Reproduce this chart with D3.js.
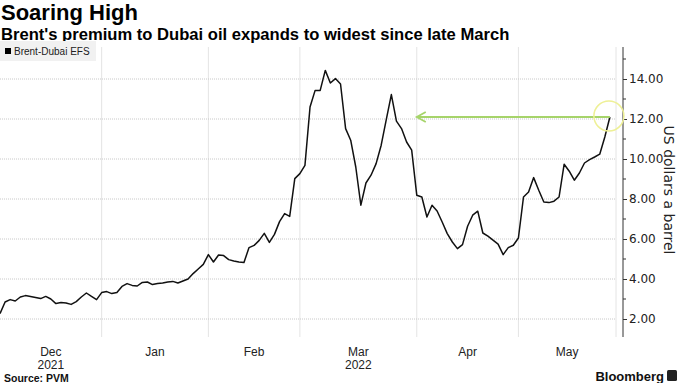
<!DOCTYPE html>
<html>
<head>
<meta charset="utf-8">
<script src="https://cdn.jsdelivr.net/npm/d3@7/dist/d3.min.js"></script>
<style>
  html, body { margin: 0; padding: 0; background: #fff; }
  svg { display: block; }
</style>
</head>
<body>
<svg id="chart" width="680" height="383"></svg>
<script>
// ---- data ----
const seriesName = "Brent-Dubai EFS";
const values = [
  2.27, 2.85, 2.97, 2.90, 3.10, 3.17, 3.13, 3.08, 3.02, 3.13,
  3.00, 2.77, 2.82, 2.80, 2.73, 2.87, 3.10, 3.30, 3.13, 2.97,
  3.32, 3.37, 3.27, 3.32, 3.63, 3.77, 3.68, 3.65, 3.83, 3.85,
  3.72, 3.77, 3.80, 3.85, 3.88, 3.80, 3.90, 4.00, 4.27, 4.50,
  4.73, 5.22, 4.85, 5.20, 5.17, 4.97, 4.90, 4.85, 4.83, 5.57,
  5.68, 5.93, 6.28, 5.83, 6.23, 6.87, 7.27, 7.13, 9.02, 9.27,
  9.68, 12.60, 13.43, 13.43, 14.43, 13.80, 14.02, 13.75, 11.52, 10.94,
  9.60, 7.69, 8.80, 9.19, 9.77, 10.69, 11.97, 13.22, 11.89, 11.52,
  10.85, 10.44, 8.19, 8.10, 7.10, 7.69, 7.40, 6.85, 6.27, 5.85,
  5.52, 5.72, 6.64, 7.19, 7.39, 6.30, 6.14, 5.94, 5.74, 5.22,
  5.57, 5.69, 6.05, 8.10, 8.35, 9.07, 8.44, 7.85, 7.82, 7.89,
  8.10, 9.74, 9.39, 8.94, 9.30, 9.80, 9.97, 10.10, 10.24, 11.10,
  12.10
];
const monthLabels = ["Dec", "Jan", "Feb", "Mar", "Apr", "May"];
const monthStartIndex = [0, 20, 41, 59, 82, 102];
const axisEndIndex = 121.2;
const yearLabels = [{ month: "Dec", year: "2021" }, { month: "Mar", year: "2022" }];
const yTicks = [2, 4, 6, 8, 10, 12, 14];
const yMinorTicks = [3, 5, 7, 9, 11, 13, 15];
const arrowFromIndex = 120, arrowToIndex = 82;

// ---- layout ----
const svg = d3.select("#chart");
const plot = { left: 0, right: 616, top: 47, bottom: 337 };
const axisX = 623;

const x = d3.scaleLinear().domain([0, axisEndIndex]).range([plot.left, plot.right]);
const y = d3.scaleLinear().domain([1.1, 15.6]).range([plot.bottom, plot.top]);

// titles
svg.append("text").attr("x", 1).attr("y", 20)
  .attr("font-family", "Liberation Sans, Arial, sans-serif").attr("font-weight", "bold")
  .attr("font-size", 22).attr("fill", "#000").text("Soaring High");
svg.append("text").attr("x", 1).attr("y", 40)
  .attr("font-family", "Liberation Sans, Arial, sans-serif").attr("font-weight", "bold")
  .attr("font-size", 16.6).attr("fill", "#000")
  .text("Brent's premium to Dubai oil expands to widest since late March");

// vertical gridlines (month boundaries)
const vLines = monthStartIndex.slice(1).concat([axisEndIndex]);
svg.append("g").selectAll("line").data(vLines).join("line")
  .attr("x1", d => x(d)).attr("x2", d => x(d))
  .attr("y1", plot.top).attr("y2", plot.bottom)
  .attr("stroke", "#e4e4e4").attr("stroke-width", 1);

// horizontal gridlines
svg.append("g").selectAll("line").data(yTicks).join("line")
  .attr("x1", plot.left).attr("x2", plot.right)
  .attr("y1", d => y(d)).attr("y2", d => y(d))
  .attr("stroke", "#c8c8c8").attr("stroke-width", 1)
  .attr("stroke-dasharray", "1,1");

// legend
svg.append("rect").attr("x", 0).attr("y", 41).attr("width", 96).attr("height", 20).attr("fill", "#f1f1f1");
svg.append("rect").attr("x", 5).attr("y", 48).attr("width", 6).attr("height", 6).attr("fill", "#000");
svg.append("text").attr("x", 14).attr("y", 55)
  .attr("font-family", "Liberation Sans, Arial, sans-serif").attr("font-size", 10)
  .attr("fill", "#222").text(seriesName);

// right axis
const yAxis = d3.axisRight(y).tickValues(yTicks).tickFormat(d3.format(".2f")).tickSize(4).tickPadding(2);
const gAxis = svg.append("g").attr("transform", `translate(${axisX},0)`).call(yAxis);
gAxis.select(".domain").remove();
gAxis.append("line").attr("x1", 0).attr("x2", 0).attr("y1", plot.top).attr("y2", plot.bottom)
  .attr("stroke", "#333").attr("stroke-width", 1);
gAxis.selectAll(".tick line").attr("stroke", "#333");
gAxis.selectAll(".tick text").attr("font-family", "DejaVu Sans, Verdana, sans-serif")
  .attr("font-size", 12).attr("fill", "#222");
gAxis.append("g").selectAll("line").data(yMinorTicks).join("line")
  .attr("x1", 0).attr("x2", 3).attr("y1", d => y(d)).attr("y2", d => y(d))
  .attr("stroke", "#333");

svg.append("text")
  .attr("transform", `translate(668,${(plot.top + plot.bottom) / 2 - 2}) rotate(90)`)
  .attr("text-anchor", "middle").attr("dominant-baseline", "middle")
  .attr("font-family", "DejaVu Sans, Verdana, sans-serif").attr("font-size", 14)
  .attr("fill", "#222").text("US dollars a barrel");

// x labels
const monthBounds = monthStartIndex.concat([axisEndIndex]);
const gx = svg.append("g");
monthLabels.forEach((m, i) => {
  const cx = x((monthBounds[i] + monthBounds[i + 1]) / 2);
  gx.append("text").attr("x", cx).attr("y", 356).attr("text-anchor", "middle")
    .attr("font-family", "Liberation Sans, Arial, sans-serif").attr("font-size", 12)
    .attr("fill", "#222").text(m);
  const yl = yearLabels.find(e => e.month === m);
  if (yl) {
    gx.append("text").attr("x", cx).attr("y", 369).attr("text-anchor", "middle")
      .attr("font-family", "Liberation Sans, Arial, sans-serif").attr("font-size", 12)
      .attr("fill", "#222").text(yl.year);
  }
});

// line
const line = d3.line().x((d, i) => x(i)).y(d => y(d));
svg.append("path").datum(values).attr("d", line)
  .attr("fill", "none").attr("stroke", "#111").attr("stroke-width", 1.5)
  .attr("stroke-linejoin", "round");

// annotation arrow + circle
const level = values[arrowFromIndex];
const ax1 = x(arrowFromIndex), ax2 = x(arrowToIndex), ay = y(level);
svg.append("line").attr("x1", ax1).attr("x2", ax2).attr("y1", ay).attr("y2", ay)
  .attr("stroke", "#a6d46a").attr("stroke-width", 2);
svg.append("path")
  .attr("d", `M${ax2 + 9},${ay - 5} L${ax2},${ay} L${ax2 + 9},${ay + 5}`)
  .attr("fill", "none").attr("stroke", "#a6d46a").attr("stroke-width", 1.8);
svg.append("circle").attr("cx", ax1 - 1).attr("cy", ay - 1).attr("r", 15)
  .attr("fill", "none").attr("stroke", "#eef096").attr("stroke-width", 1.5);

// footer
svg.append("text").attr("x", 4).attr("y", 382)
  .attr("font-family", "Liberation Sans, Arial, sans-serif").attr("font-weight", "bold")
  .attr("font-size", 10.5).attr("fill", "#111").text("Source: PVM");
svg.append("text").attr("x", 664).attr("y", 381).attr("text-anchor", "end")
  .attr("font-family", "Liberation Sans, Arial, sans-serif").attr("font-weight", "bold")
  .attr("font-size", 13).attr("fill", "#111").text("Bloomberg");
svg.append("rect").attr("x", 667).attr("y", 370).attr("width", 10).attr("height", 11)
  .attr("rx", 1.5).attr("fill", "#222");
</script>
</body>
</html>
